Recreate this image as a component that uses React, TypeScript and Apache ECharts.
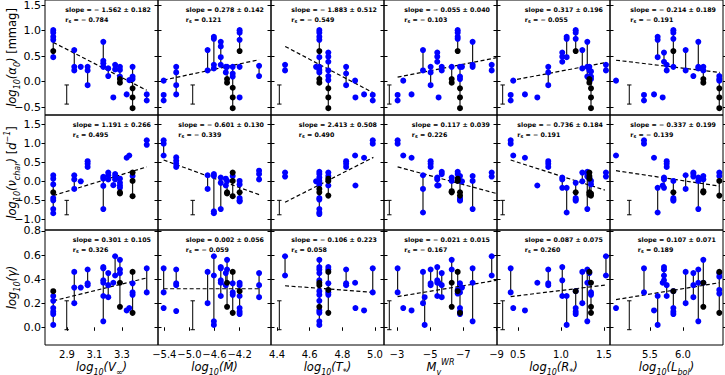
import React, { useEffect, useRef } from "react";
import * as echarts from "echarts";

type Group = [number, number[], number[]];

const FONT = '"DejaVu Sans", sans-serif';

// ---------- axes ----------
const xRanges = [[2.74, 3.562], [-5.5, -3.7], [4.363, 5.055], [-9.03, -2.22], [0.256, 1.57], [4.894, 6.606]];
const xInverse = [false, false, false, true, false, false];
const xTicks = [[2.9, 3.1, 3.3], [-5.4, -5.0, -4.6, -4.2], [4.4, 4.6, 4.8, 5.0], [-3, -5, -7, -9], [0.5, 1.0, 1.5], [5.5, 6.0]];
const xDecimals = [1, 1, 1, 0, 1, 1];
const yRanges = [[-0.654, 1.601], [-1.28, 1.745], [-0.147, 0.808]];
const yTicks = [[-0.5, 0, 0.5, 1.0, 1.5], [-1.0, -0.5, 0, 0.5, 1.0, 1.5], [0, 0.2, 0.4, 0.6, 0.8]];

// ---------- annotations ----------
const slopes = [
  [[-1.562, 0.182], [0.278, 0.142], [-1.883, 0.512], [-0.055, 0.04], [0.317, 0.196], [-0.214, 0.189]],
  [[1.191, 0.266], [-0.601, 0.13], [2.413, 0.508], [0.117, 0.039], [-0.736, 0.184], [-0.337, 0.199]],
  [[0.301, 0.105], [0.002, 0.056], [-0.106, 0.223], [-0.021, 0.015], [0.087, 0.075], [0.107, 0.071]],
];
const rsValues = [
  [-0.784, 0.121, -0.549, -0.103, -0.055, -0.191],
  [0.495, -0.339, 0.49, 0.226, -0.191, -0.139],
  [0.326, -0.059, 0.058, -0.167, 0.26, 0.189],
];

// ---------- error bars ----------
const errX = [2.898, -4.947, 4.414, -2.54, 0.322, 5.186];
const errY = [[-0.44, -0.065], [-0.88, -0.5], [-0.02, 0.22]];

// ---------- fits ----------
const fitsRow1 = [
  [[2.8, 0.77], [3.48, -0.17]], [[-5.41, 0.03], [-3.89, 0.43]], [[4.45, 0.69], [4.99, -0.22]],
  [[-3.04, 0.09], [-9.0, 0.47]], [[0.415, 0.02], [1.51, 0.37]], [[4.985, 0.42], [6.56, 0.18]],
];
const fitsRow2 = [
  [[2.8, -0.375], [3.48, 0.38]], [[-5.41, 0.56], [-3.89, -0.35]], [[4.449, -0.55], [4.99, 0.63]],
  [[-3.04, 0.38], [-9.0, -0.32]], [[0.415, 0.56], [1.51, -0.23]], [[4.985, 0.28], [6.55, -0.125]],
];
const fitsRow3 = [
  [[2.8, 0.22], [3.48, 0.41]], [[-5.41, 0.32], [-3.89, 0.32]], [[4.449, 0.345], [4.99, 0.29]],
  [[-3.04, 0.255], [-9.0, 0.39]], [[0.415, 0.255], [1.51, 0.35]], [[4.985, 0.23], [6.55, 0.37]],
];

// ---------- data: [x, blue ys, black ys] ----------
const P11: Group[] = [
  [2.8, [1.01, 0.96, 0.88, 0.82, 0.48], [0.6]], [2.953, [0.62, 0.29, 0.22], []], [3.0, [0.29], []],
  [3.05, [0.29, 0.22, -0.07], []], [3.164, [0.78, 0.41, 0.36, 0.29], []], [3.2, [0.26, 0.11], []],
  [3.237, [-0.31], []], [3.25, [0.33, 0.24], []], [3.285, [0.29, 0.23, 0.1], [0.05, -0.02]],
  [3.334, [-0.25], []], [3.353, [0.03], []], [3.377, [0.29, 0.1, 0.05], [-0.13, -0.31, -0.52]],
  [3.48, [-0.25, -0.37], []],
];
const P12: Group[] = [
  [-5.41, [0.02], []], [-5.41, [-0.26, -0.37], []], [-5.21, [0.29, 0.18, -0.07, -0.25], []],
  [-4.71, [0.62, 0.22], []], [-4.61, [0.88, 0.84, 0.33, 0.26], []], [-4.5, [0.78, 0.69, 0.48, 0.33], []],
  [-4.42, [0.29, 0.18], []], [-4.4, [0.29], [0.05, -0.02]], [-4.31, [0.29, 0.16, 0.1], [-0.12, -0.31, -0.52]],
  [-4.2, [1.01, 0.96, 0.82], [0.6]], [-4.2, [0.29], []], [-4.2, [-0.31], []], [-3.89, [0.31, 0.11], []],
];
const P13: Group[] = [
  [4.449, [0.33, 0.22], []], [4.639, [0.29], []],
  [4.659, [1.01, 0.96, 0.88, 0.82, 0.48, 0.29, 0.23, 0.18], [0.6, 0.05, -0.02]],
  [4.714, [0.57, 0.49, 0.39, 0.22, 0.11, 0.03], [-0.13, -0.31, -0.52]],
  [4.823, [0.29, 0.16, -0.07], []], [4.878, [0.02], []], [4.88, [-0.31], []],
  [4.933, [-0.25], []], [4.986, [-0.26, -0.37], []],
];
const P14: Group[] = [
  [-3.04, [-0.26, -0.37], []], [-3.38, [0.02], []], [-3.88, [-0.25], []], [-4.57, [0.62, 0.22], []],
  [-5.03, [0.29, 0.18, -0.07], []], [-5.43, [0.57, 0.49, 0.39], []], [-5.51, [-0.31], []],
  [-5.7, [0.29, 0.22], []], [-6.3, [0.29], [0.05, -0.02]], [-6.66, [1.01, 0.96, 0.88, 0.84], [0.6]],
  [-6.8, [0.29, 0.1, 0.05], [-0.13, -0.31, -0.52]], [-6.92, [0.29], []], [-7.56, [0.78, 0.33, 0.29], []],
  [-8.71, [0.33, 0.22], []],
];
const P15: Group[] = [
  [0.415, [-0.26, -0.37], []], [0.445, [0.02], []], [0.581, [-0.25], []], [0.725, [-0.31], []],
  [0.852, [0.29, 0.18, -0.07], []], [1.015, [0.57, 0.49, 0.39], []], [1.066, [0.88, 0.84, 0.48], []],
  [1.171, [1.01, 0.96, 0.84], [0.6]], [1.248, [0.62, 0.26], []], [1.306, [0.78, 0.29, 0.1], []],
  [1.33, [0.29, 0.22], [0.05, -0.02]], [1.349, [0.2, 0.1, 0.05], [-0.13, -0.31, -0.52]],
  [1.523, [0.33, 0.22], []],
];
const P16: Group[] = [
  [4.985, [0.02], []], [5.409, [-0.26, -0.37], []], [5.561, [-0.25], []], [5.616, [0.88, 0.82, 0.48], []],
  [5.692, [-0.31], []], [5.712, [0.57, 0.39], []], [5.753, [0.33, 0.22], []],
  [5.854, [1.01, 0.96, 0.84, 0.29], [0.6]], [6.04, [0.62, 0.22], []], [6.157, [0.11], []],
  [6.232, [0.78, 0.29, 0.26], []], [6.308, [0.29, 0.22], [0.05, -0.02]],
  [6.55, [0.11, 0.05, 0.02], [-0.13, -0.31, -0.52]],
];

const P21: Group[] = [
  [2.8, [0.16, 0.07, -0.08, -0.44, -0.5, -0.73, -0.84], [-0.29]], [2.953, [0.16, 0.05, -0.2], []],
  [3.0, [0.0], []], [3.05, [0.53, 0.46, 0.38], []], [3.164, [0.12, 0.07, -0.12, -0.73], []],
  [3.2, [0.23, 0.16, 0.05], []], [3.237, [-0.1], []], [3.25, [0.19, 0.12, 0.05], []],
  [3.285, [0.07, -0.04, -0.11, -0.17], [-0.29, -0.32]], [3.334, [0.62], []], [3.353, [0.68], []],
  [3.377, [0.14], [0.23, 0.01, -0.39]], [3.48, [1.08, 0.96], []],
];
const P22: Group[] = [
  [-5.41, [1.08, 0.99, 0.68], []], [-5.21, [0.63, 0.54, 0.46, 0.38], []], [-4.71, [0.16, -0.2], []],
  [-4.61, [0.19, 0.14, -0.79, -0.84], []], [-4.5, [0.1, -0.04, -0.73], []], [-4.42, [0.07, -0.11], []],
  [-4.4, [0.01], [-0.29, -0.32]], [-4.31, [0.14], [0.23, 0.01, -0.39]],
  [-4.2, [0.01, -0.08, -0.44, -0.5, -0.53], [-0.29]], [-3.89, [0.28, 0.19, 0.05], []],
];
const P23: Group[] = [
  [4.449, [0.23, 0.125], []], [4.639, [0.0], []],
  [4.659, [0.25, 0.19, 0.1, 0.01, -0.08, -0.44, -0.48, -0.73, -0.82, -0.86], [-0.2, -0.29]],
  [4.714, [0.23, 0.14, -0.11], [0.07, 0.01, -0.375]], [4.823, [0.53, 0.46, 0.38], []],
  [4.878, [0.68], []], [4.88, [-0.11], []], [4.933, [0.62], []], [4.986, [1.08, 0.99], []],
];
const P24: Group[] = [
  [-3.04, [1.08, 0.99], []], [-3.38, [0.68], []], [-3.88, [0.62], []], [-4.57, [0.16, -0.2, -0.82], []],
  [-5.03, [0.53, 0.46, 0.38], []], [-5.43, [0.1, 0.05, -0.11], []], [-5.51, [-0.11], []],
  [-5.7, [0.25, 0.19], []], [-6.3, [0.1, 0.01], [-0.26, -0.29]], [-6.66, [0.25, 0.19], [0.07, 0.01]],
  [-6.8, [0.14, 0.01, -0.44, -0.48, -0.51], [-0.29, -0.375]], [-6.92, [0.0], []],
  [-7.56, [0.14, 0.01, -0.73], []], [-8.71, [0.23, 0.125], []],
];
const P25: Group[] = [
  [0.415, [1.08, 0.99], []], [0.445, [0.68], []], [0.581, [0.62], []], [0.725, [-0.11], []],
  [0.852, [0.53, 0.46, 0.38], []], [1.015, [0.1, 0.05, -0.17], []], [1.066, [-0.17, -0.82], []],
  [1.171, [-0.04, -0.44, -0.48, -0.51], [-0.29]], [1.248, [0.23, 0.0], []],
  [1.306, [0.25, 0.19, 0.125, -0.73], []], [1.33, [0.1], [0.23, 0.14, 0.07, -0.29, -0.35]],
  [1.349, [0.01, -0.08], [-0.32, -0.375]], [1.523, [0.23, 0.125], []],
];
const P26: Group[] = [
  [4.985, [0.68], []], [5.409, [1.08, 0.99], []], [5.561, [0.62], []], [5.616, [-0.17, -0.82], []],
  [5.692, [-0.11], []], [5.712, [0.1, 0.05, -0.17], []], [5.753, [0.53, 0.46, 0.38], []],
  [5.854, [0.01, -0.44, -0.48, -0.51], [-0.29]], [6.04, [0.16, -0.2], []], [6.157, [0.23, 0.19, 0.125], []],
  [6.232, [0.1, 0.01, -0.73], []], [6.308, [0.14, 0.05], [-0.26, -0.29]], [6.55, [0.23, 0.14], [0.01, -0.375]],
];

const P31: Group[] = [
  [2.8, [0.26, 0.22, 0.16, 0.13, 0.11, 0.02], [0.3]], [2.953, [0.46, 0.33, 0.2], []], [3.0, [0.33], []],
  [3.05, [0.48, 0.365, 0.35], []], [3.164, [0.5, 0.49, 0.39, 0.37, 0.26, 0.05], []],
  [3.2, [0.45, 0.35, 0.25], []], [3.237, [0.37], []], [3.25, [0.59, 0.43], []],
  [3.285, [0.56, 0.48, 0.45], [0.37, 0.17]], [3.334, [0.14], []], [3.353, [0.16], []],
  [3.377, [0.365, 0.29, 0.27], [0.46, 0.12]], [3.48, [0.49, 0.29], []],
];
const P32: Group[] = [
  [-5.41, [0.49, 0.29], []], [-5.41, [0.16], []], [-5.21, [0.48, 0.365, 0.35], []], [-5.21, [0.135], []],
  [-4.71, [0.46, 0.2], []], [-4.61, [0.59, 0.43, 0.05, 0.02], []], [-4.5, [0.5, 0.49, 0.39, 0.37, 0.26], []],
  [-4.42, [0.45, 0.35], []], [-4.4, [0.56, 0.48], [0.37, 0.17]], [-4.31, [0.365, 0.29, 0.27], [0.46, 0.12]],
  [-4.2, [0.37, 0.35, 0.26, 0.16, 0.13, 0.11], [0.3]], [-3.89, [0.45, 0.35, 0.25], []],
];
const P33: Group[] = [
  [4.449, [0.59, 0.43], []],
  [4.659, [0.56, 0.5, 0.48, 0.45, 0.39, 0.3, 0.27, 0.22, 0.14, 0.12, 0.05, 0.02], [0.37, 0.35, 0.17]],
  [4.714, [0.5, 0.48, 0.365, 0.29, 0.27], [0.46, 0.31, 0.12]], [4.823, [0.48, 0.365, 0.35], []],
  [4.878, [0.37], []], [4.88, [0.16], []], [4.933, [0.14], []], [4.986, [0.49, 0.29], []],
];
const P34: Group[] = [
  [-3.04, [0.49, 0.29], []], [-3.38, [0.16], []], [-3.88, [0.14], []], [-4.57, [0.46, 0.2], []],
  [-4.67, [0.25, 0.02], []], [-5.03, [0.48, 0.365, 0.35], []], [-5.43, [0.5, 0.39, 0.37, 0.26], []],
  [-5.51, [0.37], []], [-5.7, [0.45, 0.35, 0.25], []], [-6.3, [0.56, 0.48], [0.37, 0.17]],
  [-6.66, [0.31, 0.28], [0.46, 0.3]], [-6.8, [0.365, 0.29, 0.16, 0.13, 0.11], [0.12]], [-6.92, [0.33], []],
  [-7.56, [0.49, 0.37, 0.05], []], [-8.71, [0.59, 0.43], []],
];
const P35: Group[] = [
  [0.415, [0.49, 0.29], []], [0.445, [0.16], []], [0.581, [0.14], []], [0.725, [0.37], []],
  [0.852, [0.48, 0.365, 0.35], []], [1.015, [0.5, 0.39, 0.26], []], [1.066, [0.26, 0.02], []],
  [1.171, [0.3, 0.16, 0.13, 0.11], [0.3]], [1.248, [0.46, 0.2], []], [1.306, [0.48, 0.37, 0.05], []],
  [1.33, [0.45, 0.37], [0.46]], [1.349, [0.29, 0.27], [0.37, 0.17, 0.12]], [1.523, [0.59, 0.43], []],
];
const P36: Group[] = [
  [4.985, [0.16], []], [5.409, [0.49, 0.29], []], [5.561, [0.14], []], [5.616, [0.26, 0.02], []],
  [5.692, [0.37], []], [5.712, [0.5, 0.48, 0.43, 0.39], []], [5.753, [0.35, 0.26], []],
  [5.854, [0.3, 0.16, 0.13, 0.11], [0.3]], [6.04, [0.46, 0.2], []], [6.157, [0.45, 0.35, 0.25], []],
  [6.232, [0.48, 0.37, 0.05], []], [6.308, [0.56, 0.37], [0.37, 0.17]],
  [6.55, [0.45, 0.42, 0.31, 0.28], [0.46, 0.12]],
];

const panels: Group[][][] = [
  [P11, P12, P13, P14, P15, P16],
  [P21, P22, P23, P24, P25, P26],
  [P31, P32, P33, P34, P35, P36],
];
const fits = [fitsRow1, fitsRow2, fitsRow3];

const yNames = [
  "{i|log}{s|10}{i|(α}{s|0}{i|)}{n| [mmag]}",
  "{i|log}{s|10}{i|(ν}{s|char}{i|)}{n| [}{i|d}{p|−1}{n|]}",
  "{i|log}{s|10}{i|(γ)}",
];
const xNames = [
  "{i|log}{s|10}{i|(V}{s|∞}{i|)}",
  "{i|log}{s|10}{i|(Ṁ)}",
  "{i|log}{s|10}{i|(T}{s|*}{i|)}",
  "{i|M}{s|v}{p|WR}",
  "{i|log}{s|10}{i|(R}{s|*}{i|)}",
  "{i|log}{s|10}{i|(L}{s|bol}{i|)}",
];

// ---------- layout ----------
const GL = 45, GW = 113, GT = 0, GH = 115;

const fmt = (v: number, d: number) => (v < 0 ? "−" + Math.abs(v).toFixed(d) : v.toFixed(d));
const fmtSigned = (v: number) => (v < 0 ? "− " + Math.abs(v).toFixed(3) : v.toFixed(3));

const richStyles = {
  i: { fontFamily: FONT, fontSize: 11.5, fontStyle: "italic", lineHeight: 18, color: "#000" },
  n: { fontFamily: FONT, fontSize: 11.5, lineHeight: 18, color: "#000" },
  s: { fontFamily: FONT, fontSize: 8, fontStyle: "italic", verticalAlign: "bottom", color: "#000" },
  p: { fontFamily: FONT, fontSize: 8, fontStyle: "italic", verticalAlign: "top", color: "#000" },
};

function buildOption() {
  const grid: any[] = [], xAxis: any[] = [], yAxis: any[] = [], series: any[] = [], graphic: any[] = [];
  const canvas = document.createElement("canvas");
  const ctx = canvas.getContext("2d")!;
  const annSize = 6.3;
  ctx.font = `bold ${annSize}px "DejaVu Sans"`;
  const rightAxes: any[] = [];

  for (let r = 0; r < 3; r++) {
    for (let c = 0; c < 6; c++) {
      const idx = r * 6 + c;
      const left = GL + c * GW, top = GT + r * GH;
      grid.push({
        left, top, width: GW, height: GH, show: true, borderColor: "#000", borderWidth: 1,
        backgroundColor: "transparent", containLabel: false, outerBoundsMode: "none",
      });
      xAxis.push({
        type: "value", gridIndex: idx, min: xRanges[c][0], max: xRanges[c][1], inverse: xInverse[c],
        axisLine: { show: false }, splitLine: { show: false },
        axisTick: { show: r === 2, inside: false, length: 3.5, customValues: xTicks[c], lineStyle: { color: "#000" } },
        axisLabel: {
          show: r === 2, customValues: xTicks[c], formatter: (v: number) => fmt(v, xDecimals[c]),
          color: "#000", fontSize: 10, fontFamily: FONT, margin: 4, hideOverlap: false, interval: 0,
          showMinLabel: true, showMaxLabel: true,
        },
      });
      yAxis.push({
        type: "value", gridIndex: idx, min: yRanges[r][0], max: yRanges[r][1],
        axisLine: { show: false }, splitLine: { show: false },
        axisTick: { show: true, inside: false, length: 3.5, customValues: yTicks[r], lineStyle: { color: "#000" } },
        axisLabel: {
          show: c === 0, customValues: yTicks[r], formatter: (v: number) => fmt(v, 1),
          color: "#000", fontSize: 11, fontFamily: FONT, margin: 4, hideOverlap: false, interval: 0,
          showMinLabel: true, showMaxLabel: true,
        },
      });
      rightAxes.push({
        type: "value", gridIndex: idx, position: "right", min: yRanges[r][0], max: yRanges[r][1],
        axisLine: { show: false }, splitLine: { show: false },
        axisTick: { show: true, inside: false, length: 3.5, customValues: yTicks[r], lineStyle: { color: "#000" } },
        axisLabel: { show: false },
      });

      const groups = panels[r][c];
      const conn = groups
        .filter((g) => g[1].length + g[2].length > 1)
        .map((g) => {
          const ys = [...g[1], ...g[2]];
          return [g[0], Math.min(...ys), Math.max(...ys)];
        });
      series.push({
        type: "custom", xAxisIndex: idx, yAxisIndex: idx, data: conn, z: 2, silent: true,
        renderItem: (_p: any, api: any) => {
          const a = api.coord([api.value(0), api.value(1)]);
          const b = api.coord([api.value(0), api.value(2)]);
          return { type: "line", shape: { x1: a[0], y1: a[1], x2: b[0], y2: b[1] }, style: { stroke: "#1a1a1a", lineWidth: 1.2 } };
        },
      });
      series.push({
        type: "custom", xAxisIndex: idx, yAxisIndex: idx, data: [[errX[c], errY[r][0], errY[r][1]]], z: 2, silent: true,
        renderItem: (_p: any, api: any) => {
          const a = api.coord([api.value(0), api.value(1)]);
          const b = api.coord([api.value(0), api.value(2)]);
          const st = { stroke: "#000", lineWidth: 1 };
          return {
            type: "group",
            children: [
              { type: "line", shape: { x1: a[0], y1: a[1], x2: b[0], y2: b[1] }, style: st },
              { type: "line", shape: { x1: a[0] - 2.2, y1: a[1], x2: a[0] + 2.2, y2: a[1] }, style: st },
              { type: "line", shape: { x1: b[0] - 2.2, y1: b[1], x2: b[0] + 2.2, y2: b[1] }, style: st },
            ],
          };
        },
      });
      series.push({
        type: "line", xAxisIndex: idx, yAxisIndex: idx, data: fits[r][c], symbol: "none", z: 3, silent: true,
        lineStyle: { color: "#000", width: 1.2, type: [4, 2.5] },
      });
      const blue: number[][] = [], black: number[][] = [];
      groups.forEach((g) => {
        g[1].forEach((y) => blue.push([g[0], y]));
        g[2].forEach((y) => black.push([g[0], y]));
      });
      series.push({
        type: "scatter", xAxisIndex: idx, yAxisIndex: idx, data: blue, symbolSize: 6, z: 4, silent: true,
        itemStyle: { color: "#0000ff", opacity: 1 },
      });
      series.push({
        type: "scatter", xAxisIndex: idx, yAxisIndex: idx, data: black, symbolSize: 6, z: 5, silent: true,
        itemStyle: { color: "#000000", opacity: 1 },
      });

      // annotations
      const [sv, se] = slopes[r][c];
      const slopeText = `slope = ${fmtSigned(sv)} ± ${se.toFixed(3)}`;
      const w = ctx.measureText(slopeText).width;
      const right = left + GW - 7;
      const tx = right - w;
      graphic.push({
        type: "text", x: tx, y: top + 9, z: 10, silent: true,
        style: { text: slopeText, font: `bold ${annSize}px ${FONT}`, fill: "#000", align: "left", verticalAlign: "middle" },
      });
      graphic.push({
        type: "text", x: tx, y: top + 19.5, z: 10, silent: true,
        style: {
          text: `{b|r}{bs|s}{b| = ${fmtSigned(rsValues[r][c])}}`, align: "left", verticalAlign: "middle",
          rich: {
            b: { fontFamily: FONT, fontWeight: "bold", fontSize: annSize, lineHeight: 9, color: "#000" },
            bs: { fontFamily: FONT, fontWeight: "bold", fontSize: 4.8, verticalAlign: "bottom", color: "#000" },
          },
        },
      });
    }
  }
  // axis names
  for (let r = 0; r < 3; r++) {
    graphic.push({
      type: "text", x: 12, y: GT + r * GH + GH / 2, rotation: Math.PI / 2, z: 10, silent: true,
      style: { text: yNames[r], rich: richStyles, align: "center", verticalAlign: "middle" },
    });
  }
  for (let c = 0; c < 6; c++) {
    graphic.push({
      type: "text", x: GL + c * GW + GW / 2, y: 367, z: 10, silent: true,
      style: { text: xNames[c], rich: richStyles, align: "center", verticalAlign: "middle" },
    });
  }
  return { animation: false, grid, xAxis, yAxis: [...yAxis, ...rightAxes], series, graphic: { elements: graphic } };
}

export default function App() {
  const ref = useRef<HTMLDivElement>(null);
  useEffect(() => {
    document.body.style.margin = "0";
    const chart = echarts.init(ref.current!, undefined, { renderer: "svg" });
    chart.setOption(buildOption() as any);
    return () => chart.dispose();
  }, []);
  return <div ref={ref} style={{ width: 725, height: 375, background: "#fff" }} />;
}
